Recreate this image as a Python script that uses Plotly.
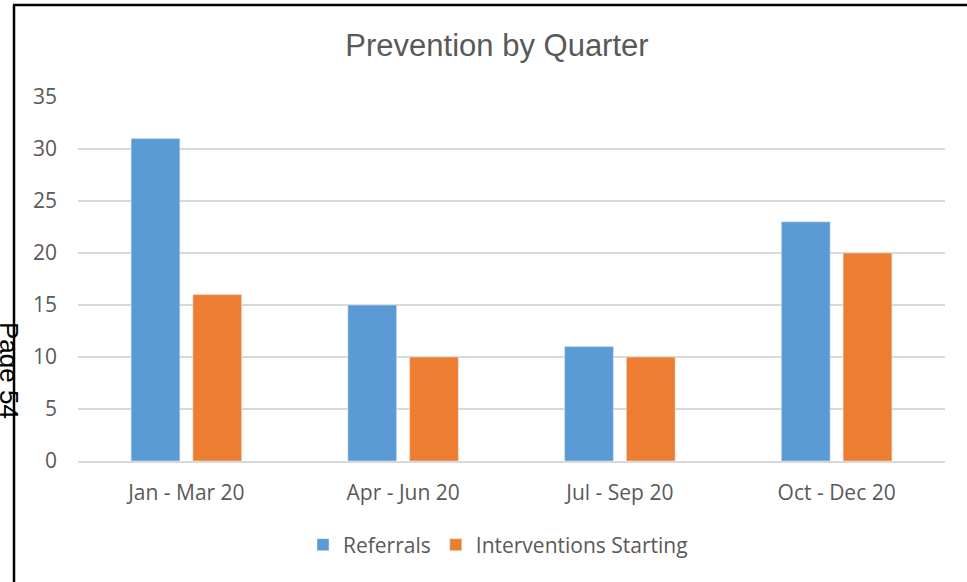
"""Prevention by Quarter - grouped bar chart."""

import plotly.graph_objs as go

quarters = ["Jan - Mar 20", "Apr - Jun 20", "Jul - Sep 20", "Oct - Dec 20"]
referrals = [31, 15, 11, 23]
interventions = [16, 10, 10, 20]

BLUE = "#5B9BD5"
ORANGE = "#ED7D31"
GREY_TEXT = "#595959"
GRID = "#D9D9D9"

W, H = 967, 582
ML, MR, MT, MB = 78, 22, 97, 121
plot_w = W - ML - MR
plot_h = H - MT - MB


def px_x(x):
    return (x - ML) / plot_w


def px_y(y):
    return (H - MB - y) / plot_h


fig = go.Figure()
fig.add_trace(go.Bar(x=quarters, y=referrals, name="Referrals", marker_color=BLUE))
fig.add_trace(go.Bar(x=quarters, y=interventions, name="Interventions Starting", marker_color=ORANGE))

fig.update_layout(
    width=W,
    height=H,
    margin=dict(l=ML, r=MR, t=MT, b=MB, autoexpand=False),
    paper_bgcolor="white",
    plot_bgcolor="white",
    barmode="group",
    bargap=0.43,
    bargroupgap=0.21,
    font=dict(family="Open Sans", size=21, color=GREY_TEXT),
    title=dict(
        text="Prevention by Quarter",
        x=497 / W,
        xanchor="center",
        y=1 - 45 / H,
        yanchor="middle",
        font=dict(family="Liberation Sans", size=31, color=GREY_TEXT),
    ),
    legend=dict(
        orientation="h",
        x=px_x(498),
        xanchor="center",
        y=px_y(545),
        yanchor="middle",
        font=dict(size=21, color=GREY_TEXT),
        itemwidth=30,
        traceorder="normal",
    ),
    showlegend=True,
)

fig.update_xaxes(
    showgrid=False,
    showline=True,
    linecolor=GRID,
    linewidth=1.5,
    ticks="",
    ticklabelstandoff=12,
    fixedrange=True,
)
fig.update_yaxes(
    range=[0, 35],
    dtick=5,
    showgrid=True,
    gridcolor=GRID,
    gridwidth=1.5,
    zeroline=False,
    showline=False,
    ticks="",
    ticklabelstandoff=20,
    fixedrange=True,
)

# page frame (left and top edges) and the rotated page number
frame = dict(color="black", width=2.5)
fig.add_shape(type="line", xref="paper", yref="paper",
              x0=px_x(14), x1=px_x(14), y0=px_y(5), y1=px_y(600), line=frame)
fig.add_shape(type="line", xref="paper", yref="paper",
              x0=px_x(13), x1=px_x(980), y0=px_y(5), y1=px_y(5), line=frame)
fig.add_annotation(
    text="Page 54",
    xref="paper", yref="paper",
    x=px_x(9), y=px_y(370),
    xanchor="center", yanchor="middle",
    textangle=90,
    showarrow=False,
    font=dict(family="Liberation Sans", size=26, color="black"),
)

fig.write_html(
    "out.html",
    config={"displayModeBar": False},
    post_script="document.body.style.margin = '0';",
)
